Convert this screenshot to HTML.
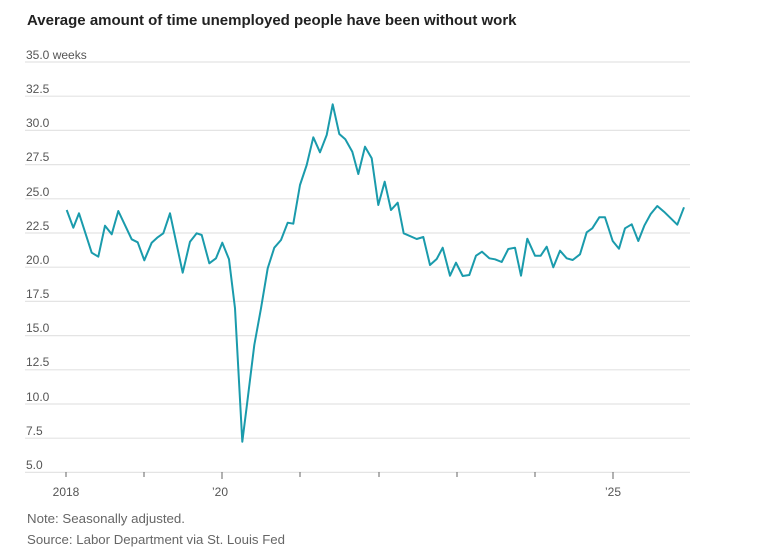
<!DOCTYPE html>
<html><head><meta charset="utf-8"><style>
body{margin:0;background:#fff;width:759px;height:553px;overflow:hidden;font-family:"Liberation Sans",sans-serif}
</style></head><body>
<svg width="759" height="553" xmlns="http://www.w3.org/2000/svg">
<text x="27" y="25" font-size="15" font-weight="bold" fill="#222">Average amount of time unemployed people have been without work</text>
<g stroke="#e4e4e4" stroke-width="1.2">
<line x1="25" x2="690" y1="62" y2="62"/><line x1="25" x2="690" y1="96.2" y2="96.2"/><line x1="25" x2="690" y1="130.4" y2="130.4"/><line x1="25" x2="690" y1="164.6" y2="164.6"/><line x1="25" x2="690" y1="198.8" y2="198.8"/><line x1="25" x2="690" y1="233" y2="233"/><line x1="25" x2="690" y1="267.2" y2="267.2"/><line x1="25" x2="690" y1="301.4" y2="301.4"/><line x1="25" x2="690" y1="335.6" y2="335.6"/><line x1="25" x2="690" y1="369.8" y2="369.8"/><line x1="25" x2="690" y1="404" y2="404"/><line x1="25" x2="690" y1="438.2" y2="438.2"/><line x1="25" x2="690" y1="472.4" y2="472.4"/>
</g>
<g font-size="12" fill="#555">
<text x="26" y="59">35.0 weeks</text><text x="26" y="93">32.5</text><text x="26" y="127">30.0</text><text x="26" y="161">27.5</text><text x="26" y="196">25.0</text><text x="26" y="230">22.5</text><text x="26" y="264">20.0</text><text x="26" y="298">17.5</text><text x="26" y="332">15.0</text><text x="26" y="366">12.5</text><text x="26" y="401">10.0</text><text x="26" y="435">7.5</text><text x="26" y="469">5.0</text>
</g>
<g stroke="#666" stroke-width="1">
<line x1="66" x2="66" y1="472" y2="477"/><line x1="144" x2="144" y1="472" y2="477"/><line x1="222" x2="222" y1="472" y2="479"/><line x1="300" x2="300" y1="472" y2="477"/><line x1="379" x2="379" y1="472" y2="477"/><line x1="457" x2="457" y1="472" y2="477"/><line x1="535" x2="535" y1="472" y2="477"/><line x1="613" x2="613" y1="472" y2="479"/>
</g>
<g font-size="12" fill="#555" text-anchor="middle">
<text x="66" y="496">2018</text><text x="220" y="496">’20</text><text x="613" y="496">’25</text>
</g>
<text x="27" y="523" font-size="13" fill="#666" textLength="158" lengthAdjust="spacingAndGlyphs">Note: Seasonally adjusted.</text>
<text x="27" y="544" font-size="13" fill="#666" textLength="258" lengthAdjust="spacingAndGlyphs">Source: Labor Department via St. Louis Fed</text>
<polyline fill="none" stroke="#1a9bac" stroke-width="2" stroke-linejoin="round" points="66.7,210 73.3,227.7 79,213.3 91.7,252.7 98.3,256.7 105,225.7 111.7,234.3 118.3,211 131.7,239.3 137.7,242.3 144.3,260.3 151.7,242.7 157.7,237.3 163.3,233.3 170,213.3 182.7,272.7 190,241.7 196.7,233.3 201.7,235 209.3,263.3 216,258.3 222.3,242.7 229,259.3 235,308.3 242.3,441.7 246.7,406.7 254.3,345 261,308.3 267.7,268.3 274.3,247.7 281,240 287.7,222.7 293.3,223.7 300,185 306.7,165 313.3,137.3 320,152.3 326.7,135 332.7,104.3 339.3,134 345.3,139.3 352.3,151.7 358.3,174 365,146.7 371.7,158.3 378.3,205 384.7,181.7 391,210 397.7,202.7 403.7,233.3 416.7,239 423.3,237 430,265 436.7,259 442.7,247.7 450,275.7 456,262.7 462.7,276 469.3,275 476,255.7 482,251.7 489.3,258.3 495,259.3 501.7,262 508.3,249 515,247.7 521,275.7 527.3,238.7 535,255.7 540.7,255.7 546.7,246.7 553.3,267.3 560,250.7 566.7,258.3 572.7,260 580,254.3 586.7,232.3 592.3,228.3 599.3,217.3 605,217.3 612.7,241 619,248.7 625,228.3 631.7,224.3 638.3,241 644.3,225.7 650.7,214 657.3,206 664,211.7 677.3,224.7 684,207.3"/>
</svg>
</body></html>
